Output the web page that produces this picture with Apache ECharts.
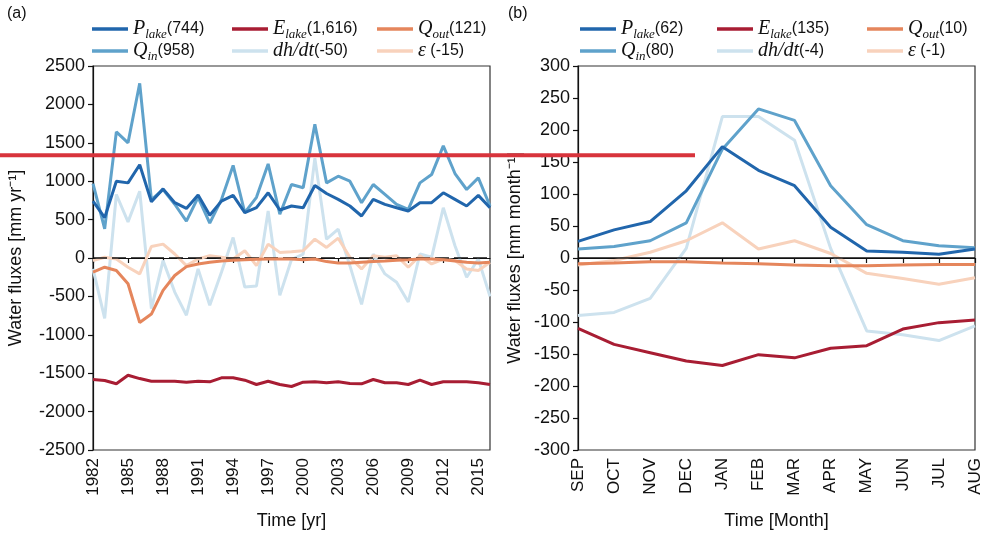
<!DOCTYPE html>
<html><head><meta charset="utf-8">
<script src="https://cdn.jsdelivr.net/npm/echarts@6/dist/echarts.min.js"></script>
<style>html,body{margin:0;padding:0;background:#fff}#c{width:986px;height:535px}</style>
</head><body><div id="c"></div>
<script>
// ---------- data ----------
const years = ['1982','1983','1984','1985','1986','1987','1988','1989','1990','1991','1992','1993','1994','1995','1996','1997','1998','1999','2000','2001','2002','2003','2004','2005','2006','2007','2008','2009','2010','2011','2012','2013','2014','2015','2016'];
const months = ['SEP','OCT','NOV','DEC','JAN','FEB','MAR','APR','MAY','JUN','JUL','AUG'];

const pLakeA = [741,526,1000,978,1215,733,900,720,646,819,556,741,815,590,655,849,625,677,655,944,840,763,677,547,763,698,655,612,720,720,849,763,677,815,655];
const eLakeA = [-1582,-1595,-1638,-1526,-1570,-1604,-1604,-1604,-1617,-1604,-1612,-1560,-1560,-1591,-1647,-1604,-1647,-1673,-1617,-1612,-1625,-1612,-1634,-1638,-1582,-1625,-1625,-1647,-1591,-1647,-1612,-1612,-1612,-1625,-1647];
const qOutA = [-185,-120,-163,-336,-840,-730,-422,-228,-112,-78,-56,-39,-30,-22,-17,-13,-13,-13,-22,-13,-47,-65,-65,-56,-47,-39,-30,-22,-13,-13,-22,-39,-56,-65,-56];
const qInA = [970,380,1643,1500,2275,760,890,700,480,790,455,760,1205,590,790,1225,570,957,914,1740,978,1065,1000,720,957,828,698,634,978,1086,1460,1100,892,1043,677];
const dhdtA = [-142,-787,827,470,870,-660,-34,-444,-745,-142,-616,-185,267,-379,-366,612,-487,-20,50,1300,245,375,-100,-603,52,-207,-315,-573,52,9,654,160,-250,-13,-500];
const epsA = [-34,9,-13,-120,-207,150,181,52,-99,-13,30,9,-13,95,-99,181,73,80,95,245,138,258,9,-142,30,9,30,-120,30,-78,-13,-34,-142,-163,-56];

const pLakeB = [26,44,57,105,174,137,113,48,11,9,6,14];
const eLakeB = [-110,-135,-148,-161,-168,-151,-156,-141,-137,-111,-101,-97];
const qOutB = [-9,-8,-6,-6,-8,-9,-11,-12,-12,-11,-10,-10];
const qInB = [14,18,27,55,170,233,215,113,52,27,19,16];
const dhdtB = [-90,-85,-63,15,221,221,184,15,-114,-120,-129,-106];
const epsB = [-11,-4,9,27,55,14,27,7,-24,-32,-41,-31];

const legendValsA = ['744','1,616','121','958','-50','-15'];
const legendValsB = ['62','135','10','80','-4','-1'];

// ---------- styling ----------
const COL = {P:'#2166ac', E:'#a81d33', Qout:'#e5865c', Qin:'#5fa2cb', dhdt:'#cde2ee', eps:'#f8d2bc'};
const keys = ['P','E','Qout','Qin','dhdt','eps'];
const sym = {
  P: v => '{m|P}{s|lake}{n|(' + v + ')}',
  E: v => '{m|E}{s|lake}{n|(' + v + ')}',
  Qout: v => '{m|Q}{s|out}{n|(' + v + ')}',
  Qin: v => '{m|Q}{s|in}{n|(' + v + ')}',
  dhdt: v => '{m|dh/dt}{n|(' + v + ')}',
  eps: v => '{m|ε}{n| (' + v + ')}'
};
const rich = {
  m:{fontFamily:'Liberation Serif, DejaVu Serif, serif', fontStyle:'italic', fontSize:20, lineHeight:24, color:'#111'},
  s:{fontFamily:'Liberation Serif, DejaVu Serif, serif', fontStyle:'italic', fontSize:13, lineHeight:8, verticalAlign:'bottom', color:'#111'},
  n:{fontFamily:'Liberation Sans, Arial, sans-serif', fontSize:16, lineHeight:24, color:'#111'}
};
const FONT = 'Liberation Sans, Arial, sans-serif';

const dataA = {P:pLakeA, E:eLakeA, Qout:qOutA, Qin:qInA, dhdt:dhdtA, eps:epsA};
const dataB = {P:pLakeB, E:eLakeB, Qout:qOutB, Qin:qInB, dhdt:dhdtB, eps:epsB};
const drawOrder = ['dhdt','eps','Qin','E','Qout','P'];

const series = [];
[['a',dataA,0],['b',dataB,1]].forEach(([tag,d,idx]) => {
  drawOrder.forEach((k,j) => {
    const s = {
      name: k + '_' + tag, type:'line', xAxisIndex:idx, yAxisIndex:idx,
      data: d[k], symbol:'none', showSymbol:false, z: 3 + j,
      lineStyle:{color:COL[k], width:3}, itemStyle:{color:COL[k]},
      emphasis:{disabled:true}
    };
    if (j === 0) {
      s.markLine = {silent:true, symbol:'none', label:{show:false},
        lineStyle:{color:'#111', width:1.5, type: idx === 0 ? [14,5] : 'solid'},
        data:[{yAxis:0}]};
    }
    series.push(s);
  });
});

const legCols = {a:[92,232,377], b:[580,717,867]};
const legRows = [19,41];
const legends = [];
[['a',legendValsA],['b',legendValsB]].forEach(([tag,vals]) => {
  keys.forEach((k,i) => {
    legends.push({
      data:[{name:k + '_' + tag, icon:'rect', itemStyle:{color:COL[k]}}],
      left: legCols[tag][i % 3], top: legRows[Math.floor(i / 3)],
      padding:0, itemGap:0, itemWidth:36, itemHeight:3.5, selectedMode:false,
      formatter: () => sym[k](vals[i]),
      textStyle:{fontFamily:FONT, fontSize:16, color:'#111', rich}
    });
  });
});

function xAx(idx, cats, name, interval) {
  return {type:'category', gridIndex:idx, data:cats, boundaryGap:false,
    name, nameLocation:'middle', nameGap:62,
    nameTextStyle:{fontFamily:FONT, fontSize:18, color:'#111'},
    axisLine:{lineStyle:{color:'#111', width:1.2}},
    axisTick:{show:true, interval, length:5, lineStyle:{color:'#111', width:1.2}},
    axisLabel:{interval, rotate:90, fontFamily:FONT, fontSize:17, color:'#111', margin:8},
    splitLine:{show:false}};
}
function yAx(idx, min, max, step, name, gap) {
  return {type:'value', gridIndex:idx, min, max, interval:step,
    name, nameLocation:'middle', nameGap:gap,
    nameTextStyle:{fontFamily:FONT, fontSize:18, color:'#111'},
    axisLine:{show:true, lineStyle:{color:'#111', width:1.2}},
    axisTick:{show:true, length:5, lineStyle:{color:'#111', width:1.2}},
    axisLabel:{fontFamily:FONT, fontSize:18, color:'#111', margin:8, formatter: v => String(v)},
    splitLine:{show:false}};
}

const option = {
  animation:false,
  backgroundColor:'#fff',
  grid:[
    {left:93, top:66, width:397, height:387, show:true, borderColor:'#333', borderWidth:1.2},
    {left:578, top:66, width:397, height:387, show:true, borderColor:'#333', borderWidth:1.2}
  ],
  legend: legends,
  xAxis:[xAx(0, years, 'Time [yr]', 2), xAx(1, months, 'Time [Month]', 0)],
  yAxis:[yAx(0, -2500, 2500, 500, 'Water fluxes [mm yr⁻¹]', 68), yAx(1, -300, 300, 50, 'Water fluxes [mm month⁻¹]', 54)],
  series,
  graphic:[
    {type:'text', left:7, top:6, style:{text:'(a)', font:'16px ' + FONT, fill:'#111'}},
    {type:'text', left:508, top:6, style:{text:'(b)', font:'16px ' + FONT, fill:'#111'}},
    {type:'line', z:100, shape:{x1:0, y1:155.3, x2:695, y2:155.3}, style:{stroke:'#d8343c', lineWidth:4}}
  ]
};
const chart = echarts.init(document.getElementById('c'), null, {renderer:'canvas'});
chart.setOption(option);
</script>
</body></html>
